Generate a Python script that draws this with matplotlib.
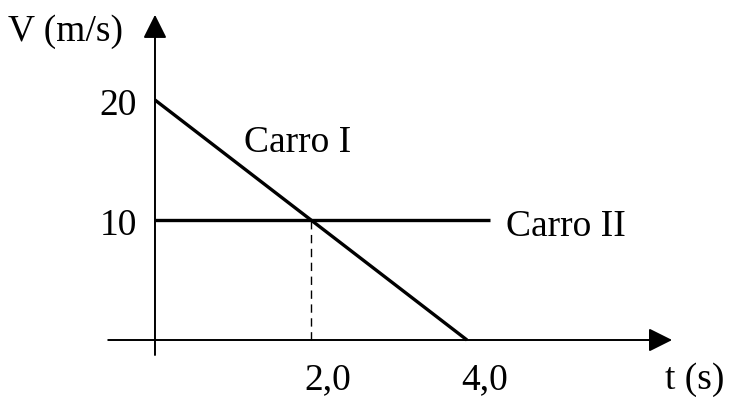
import numpy as np
import matplotlib
matplotlib.use('Agg')
import matplotlib.pyplot as plt

# Data (velocity vs time for the two cars)
t_carro1 = [0.0, 4.0]
v_carro1 = [20.0, 0.0]
t_carro2 = [0.0, 4.3]
v_carro2 = [10.0, 10.0]
t_encontro = 2.0
v_encontro = 10.0

x_ticks = [2.0, 4.0]
x_tick_labels = ['2,0', '4,0']
y_ticks = [10, 20]
y_tick_labels = ['10', '20']

plt.rcParams['font.family'] = ['Liberation Serif', 'DejaVu Serif']
FS = 27

fig = plt.figure(figsize=(7.29, 4.01), dpi=100)
ax = fig.add_axes([0, 0, 1, 1])
ax.set_xlim(-1.987, 7.359)
ax.set_ylim(-5.083, 28.333)
ax.axis('off')

# axes with arrows
arrow_kw = dict(arrowstyle='-|>', color='black', lw=1.4,
                mutation_scale=36, shrinkA=0, shrinkB=0)
ax.annotate('', xy=(6.63, 0), xytext=(-0.6, 0), arrowprops=arrow_kw)
ax.annotate('', xy=(0, 27.1), xytext=(0, -1.25), arrowprops=arrow_kw)

# the lines
ax.plot(t_carro1, v_carro1, color='black', lw=2.4, solid_capstyle='butt')
ax.plot(t_carro2, v_carro2, color='black', lw=2.4, solid_capstyle='butt')
ax.plot([t_encontro, t_encontro], [0, v_encontro], color='black', lw=1.0,
        linestyle=(0, (6, 4)))

# tick labels
for xt, lab in zip(x_ticks, x_tick_labels):
    ax.text(xt + 0.22, -3.3, lab, fontsize=FS, ha='center', va='center')
for yt, lab in zip(y_ticks, y_tick_labels):
    ax.text(-0.47, yt - 0.45, lab, fontsize=FS, ha='center', va='center')

# axis titles and labels
ax.text(-1.15, 25.7, 'V (m/s)', fontsize=FS, ha='center', va='center')
ax.text(6.92, -3.3, 't (s)', fontsize=FS, ha='center', va='center')
ax.text(1.83, 16.4, 'Carro I', fontsize=FS, ha='center', va='center')
ax.text(5.27, 9.4, 'Carro II', fontsize=FS, ha='center', va='center')

fig.savefig('out.png', dpi=100)
